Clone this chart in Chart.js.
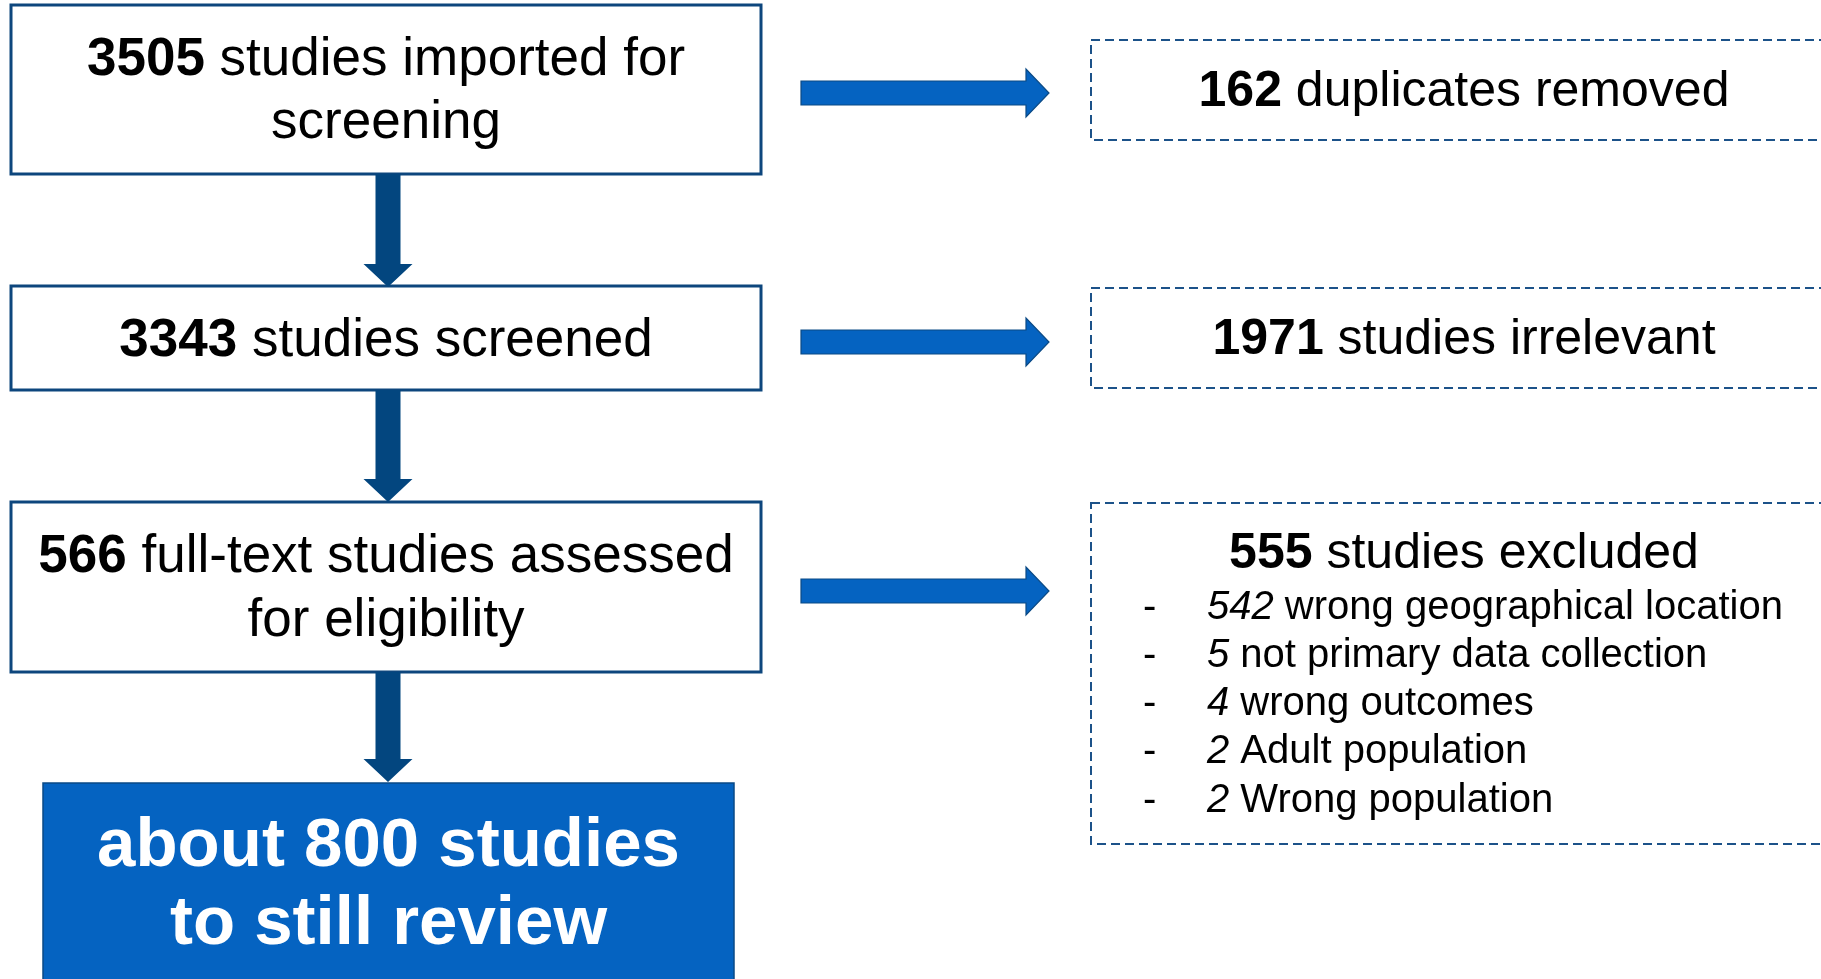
<!DOCTYPE html>
<html>
<head>
<meta charset="utf-8">
<script src="https://cdn.jsdelivr.net/npm/chart.js@4/dist/chart.umd.min.js"></script>
<style>
html,body{margin:0;padding:0;background:#fff;overflow:hidden;}
#wrap{width:1821px;height:979px;position:relative;}
</style>
</head>
<body>
<div id="wrap"><canvas id="c"></canvas></div>
<script>
// ---- data ----
const stepCounts = [3505, 3343, 566];
const stepLines = [
  ['studies imported for', 'screening'],
  ['studies screened'],
  ['full-text studies assessed', 'for eligibility']
];
const excludedCounts = [162, 1971, 555];
const excludedLabels = ['duplicates removed', 'studies irrelevant', 'studies excluded'];
const reasonCounts = [542, 5, 4, 2, 2];
const reasonLabels = ['wrong geographical location', 'not primary data collection', 'wrong outcomes', 'Adult population', 'Wrong population'];
const remainingLines = ['about 800 studies', 'to still review'];

// ---- layout (diagram units = canvas px of the reference) ----
const layout = {
  stepBoxes: [[11, 5, 761, 174], [11, 286, 761, 390], [11, 502, 761, 672]],
  stepBaselines: [[75, 138], [356], [572, 636]],
  finalBox: [43, 783, 734, 990],
  finalBaselines: [866, 944],
  downArrows: [[174, 287], [390, 502], [672, 782]],
  downX: 388,
  exBoxes: [[1091, 40, 1845, 140], [1091, 288, 1845, 388], [1091, 503, 1845, 844]],
  exBaselines: [106, 354, 568],
  exCenter: 1464,
  rightArrowsY: [93, 342, 591],
  rightArrowX: [801, 1026, 1049],
  reasonBaselines: [619, 667, 715, 763, 812],
  reasonDashX: 1143,
  reasonTextX: 1207
};
const FONT = '"Liberation Sans", Arial, sans-serif';
const DARK = '#0D467D';
const BLUE = '#0563C1';

const flowPlugin = {
  id: 'flow',
  afterDraw(chart) {
    const ctx = chart.ctx;
    const sx = chart.scales.x, sy = chart.scales.y;
    const X = v => sx.getPixelForValue(v);
    const Y = v => sy.getPixelForValue(v);
    ctx.save();
    ctx.textBaseline = 'alphabetic';
    ctx.textAlign = 'left';

    function richLine(parts, cx, by) {
      let total = 0;
      parts.forEach(p => { ctx.font = p.font; p.w = ctx.measureText(p.t).width; total += p.w; });
      let x = cx - total / 2;
      parts.forEach(p => { ctx.font = p.font; ctx.fillStyle = p.color || '#000'; ctx.fillText(p.t, x, by); x += p.w; });
    }
    function rect(b) {
      const x1 = X(b[0]), y1 = Y(b[1]), x2 = X(b[2]), y2 = Y(b[3]);
      return [x1, y1, x2 - x1, y2 - y1];
    }

    // step boxes
    layout.stepBoxes.forEach((b, i) => {
      const r = rect(b);
      ctx.fillStyle = '#fff';
      ctx.fillRect(...r);
      ctx.lineWidth = 3;
      ctx.strokeStyle = DARK;
      ctx.setLineDash([]);
      ctx.strokeRect(...r);
      const cx = X((b[0] + b[2]) / 2);
      stepLines[i].forEach((ln, j) => {
        const parts = [];
        if (j === 0) parts.push({t: String(stepCounts[i]), font: 'bold 53px ' + FONT});
        parts.push({t: (j === 0 ? ' ' : '') + ln, font: '53px ' + FONT});
        richLine(parts, cx, Y(layout.stepBaselines[i][j]));
      });
    });

    // down arrows
    layout.downArrows.forEach(a => {
      const cx = X(layout.downX);
      const y1 = Y(a[0]), tip = Y(a[1]), hs = Y(a[1] - 23);
      ctx.beginPath();
      ctx.moveTo(cx - 12.5, y1);
      ctx.lineTo(cx + 12.5, y1);
      ctx.lineTo(cx + 12.5, hs);
      ctx.lineTo(cx + 24.5, hs);
      ctx.lineTo(cx, tip);
      ctx.lineTo(cx - 24.5, hs);
      ctx.lineTo(cx - 12.5, hs);
      ctx.closePath();
      ctx.fillStyle = '#03467F';
      ctx.fill();
    });

    // final box
    {
      const r = rect(layout.finalBox);
      ctx.fillStyle = BLUE;
      ctx.fillRect(...r);
      ctx.lineWidth = 1.5;
      ctx.strokeStyle = '#0A4A86';
      ctx.strokeRect(...r);
      const cx = X((layout.finalBox[0] + layout.finalBox[2]) / 2);
      remainingLines.forEach((ln, j) => {
        richLine([{t: ln, font: 'bold 69px ' + FONT, color: '#fff'}], cx, Y(layout.finalBaselines[j]));
      });
    }

    // right arrows
    layout.rightArrowsY.forEach(yv => {
      const cy = Y(yv);
      const [a, b, c] = layout.rightArrowX.map(X);
      ctx.beginPath();
      ctx.moveTo(a, cy - 12);
      ctx.lineTo(b, cy - 12);
      ctx.lineTo(b, cy - 24);
      ctx.lineTo(c, cy);
      ctx.lineTo(b, cy + 24);
      ctx.lineTo(b, cy + 12);
      ctx.lineTo(a, cy + 12);
      ctx.closePath();
      ctx.fillStyle = BLUE;
      ctx.fill();
      ctx.lineWidth = 1.2;
      ctx.strokeStyle = '#0B4A85';
      ctx.stroke();
    });

    // excluded (dashed) boxes
    layout.exBoxes.forEach((b, i) => {
      const r = rect(b);
      ctx.lineWidth = 2;
      ctx.strokeStyle = '#1C5289';
      ctx.setLineDash([9, 5]);
      ctx.strokeRect(...r);
      ctx.setLineDash([]);
      richLine([
        {t: String(excludedCounts[i]), font: 'bold 50px ' + FONT},
        {t: ' ' + excludedLabels[i], font: '50px ' + FONT}
      ], X(layout.exCenter), Y(layout.exBaselines[i]));
    });

    // reasons list
    reasonCounts.forEach((n, i) => {
      const by = Y(layout.reasonBaselines[i]);
      ctx.fillStyle = '#000';
      ctx.font = '40px ' + FONT;
      ctx.fillText('-', X(layout.reasonDashX), by);
      let x = X(layout.reasonTextX);
      ctx.font = 'italic 40px ' + FONT;
      ctx.fillText(String(n), x, by);
      x += ctx.measureText(String(n)).width;
      ctx.font = '40px ' + FONT;
      ctx.fillText(' ' + reasonLabels[i], x, by);
    });

    ctx.restore();
  }
};

new Chart(document.getElementById('c'), {
  type: 'scatter',
  data: { datasets: [{ data: [], pointRadius: 0 }] },
  options: {
    responsive: true,
    maintainAspectRatio: false,
    animation: false,
    layout: { padding: 0 },
    plugins: { legend: { display: false }, tooltip: { enabled: false } },
    scales: {
      x: { type: 'linear', min: 0, max: 1821, display: false },
      y: { type: 'linear', min: 0, max: 979, reverse: true, display: false }
    }
  },
  plugins: [flowPlugin]
});
</script>
</body>
</html>
